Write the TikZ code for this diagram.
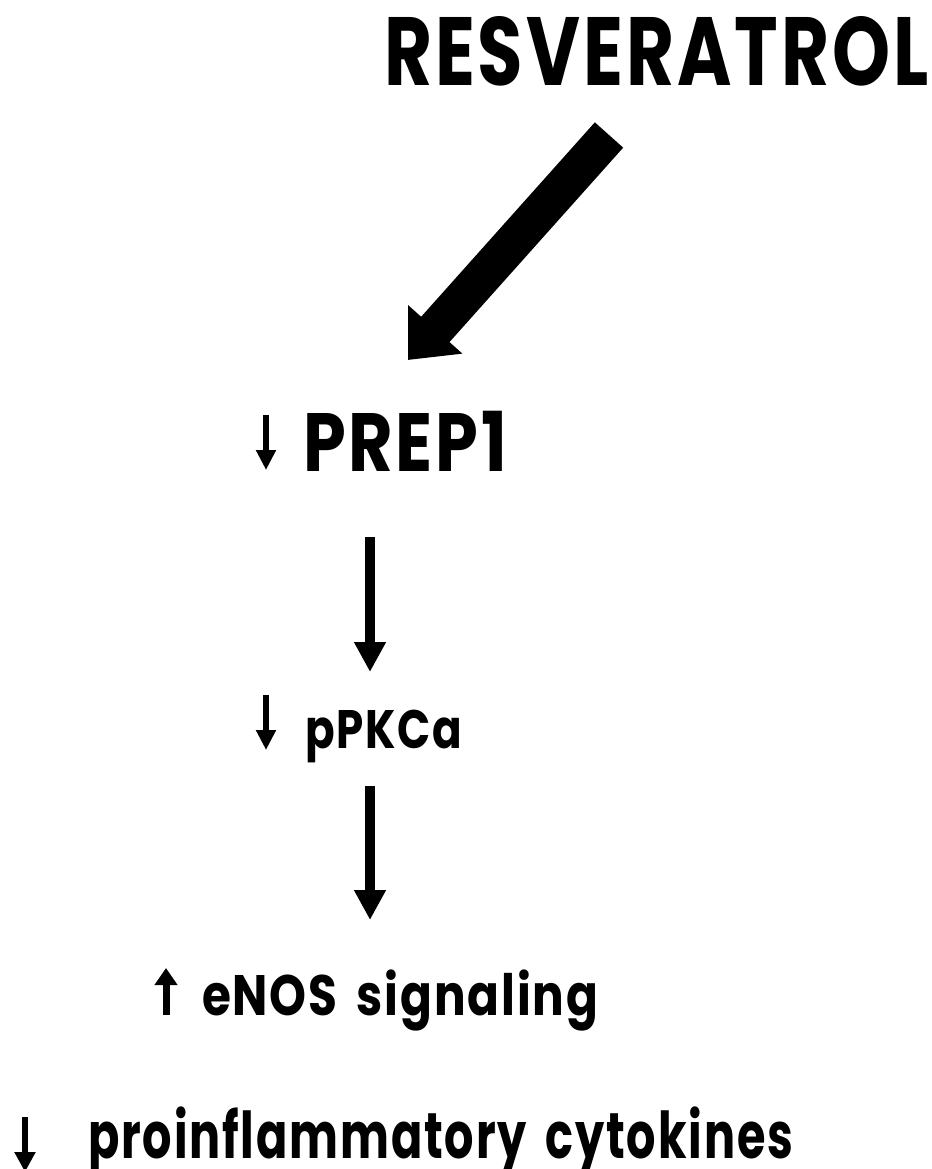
\documentclass[tikz,border=0pt]{standalone}
\usepackage{fontspec}
\setmainfont{Poppins}[LetterSpace=4,WordSpace=1.6]
\usepackage{graphicx}
\usetikzlibrary{arrows.meta}
\newcommand\fittext[4]{\setbox0\hbox{\bfseries #4}\setbox2\hbox{\bfseries #3}\ht0=\ht2 \resizebox{#1}{#2}{\box0}}
\tikzset{
  lbl/.style={anchor=base west, inner sep=0pt, outer sep=0pt},
  bigarrow/.style={line width=38pt, -{Triangle[length=41pt,width=70pt]}},
  flowarrow/.style={line width=10pt, -{Triangle[length=30pt,width=30pt]}},
  markarrow/.style={line width=6pt, -{Triangle[length=20pt,width=19pt]}},
}
\begin{document}
\begin{tikzpicture}[x=1pt,y=-1pt]
\useasboundingbox (0,0) rectangle (931,1169);
\fill[white] (0,0) rectangle (931,1169);

% texts
\node[lbl] (res)  at (384,86)   {\fittext{544pt}{68pt}{H}{RESVERATROL}};
\node[lbl] (prep) at (303,471)  {\fittext{204pt}{58pt}{H}{PREP1}};
\node[lbl] (pkc)  at (305,748)  {\fittext{157pt}{38pt}{H}{pPKCa}};
\node[lbl] (enos) at (202,1015) {\fittext{396pt}{40pt}{H}{eNOS signaling}};
\node[lbl] (cyto) at (88,1158)  {\fittext{705pt}{36pt}{x}{proinflammatory cytokines}};

% main connectors
\coordinate (bigtail) at (609,135);
\coordinate (bigtip)  at (408,360);
\draw[bigarrow] (bigtail) -- (bigtip);

\coordinate (f1s) at (370,537);
\coordinate (f1e) at (370,672);
\draw[flowarrow] (f1s) -- (f1e);

\coordinate (f2s) at (370,786);
\coordinate (f2e) at (370,920);
\draw[flowarrow] (f2s) -- (f2e);

% up/down markers
\coordinate (m1s) at (266,415);
\coordinate (m1e) at (266,470);
\draw[markarrow] (m1s) -- (m1e);

\coordinate (m2s) at (266,695);
\coordinate (m2e) at (266,750);
\draw[markarrow] (m2s) -- (m2e);

\coordinate (m3s) at (166,1015);
\coordinate (m3e) at (166,968);
\draw[markarrow, line width=7pt, -{Triangle[length=17pt,width=22pt]}] (m3s) -- (m3e);

\coordinate (m4s) at (25,1117);
\coordinate (m4e) at (25,1172);
\draw[markarrow, -{Triangle[length=20pt,width=20pt]}] (m4s) -- (m4e);
\end{tikzpicture}
\end{document}
